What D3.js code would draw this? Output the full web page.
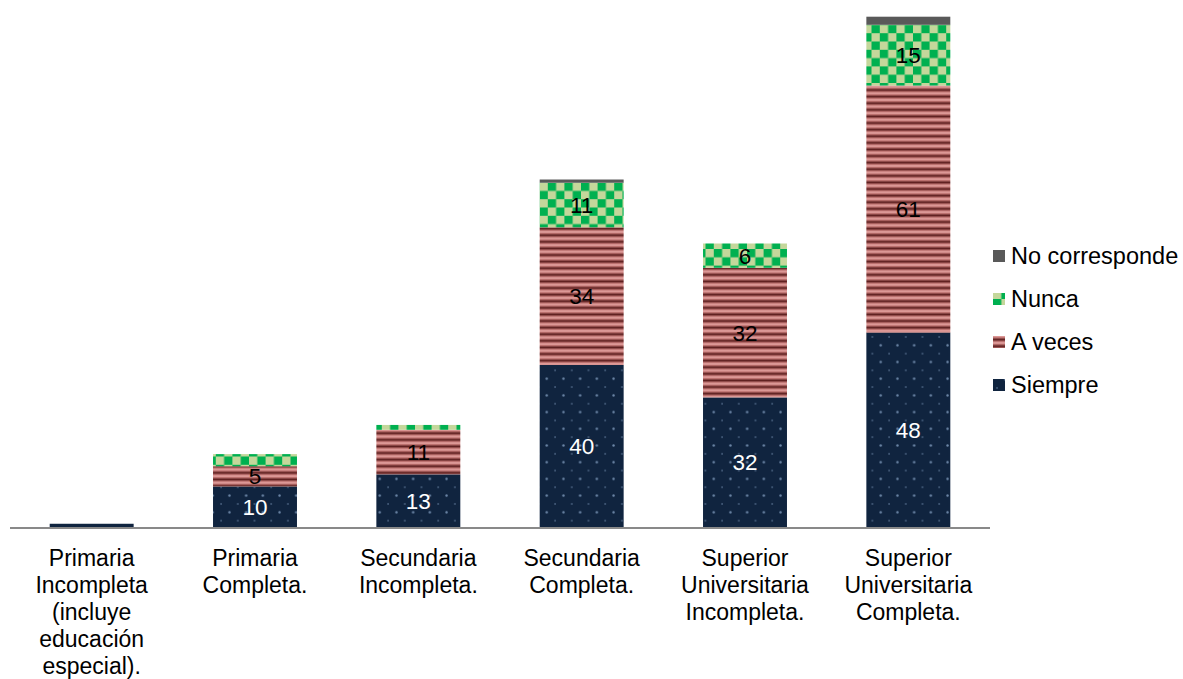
<!DOCTYPE html>
<html>
<head>
<meta charset="utf-8">
<script src="https://cdn.jsdelivr.net/npm/d3@7"></script>
<style>
  body { margin: 0; background: #fff; }
  svg text { font-family: "Liberation Sans", Arial, sans-serif; }
</style>
</head>
<body>
<div id="chart"></div>
<script>
// data
var categories = [
  ["Primaria", "Incompleta", "(incluye", "educación", "especial)."],
  ["Primaria", "Completa."],
  ["Secundaria", "Incompleta."],
  ["Secundaria", "Completa."],
  ["Superior", "Universitaria", "Incompleta."],
  ["Superior", "Universitaria", "Completa."]
];
var seriesNames = ["Siempre", "A veces", "Nunca", "No corresponde"];
var siempre = [0.8, 10, 13, 40, 32, 48];
var aVeces = [0, 5, 11, 34, 32, 61];
var nunca = [0, 3, 1.2, 11, 6, 15];
var noCorresponde = [0, 0, 0, 0.8, 0, 2];

var width = 1183, height = 679;
var baseY = 527;

var svg = d3.select("#chart").append("svg")
    .attr("width", width)
    .attr("height", height);

// fill patterns
var defs = svg.append("defs");

var pDots = defs.append("pattern")
    .attr("id", "pSiempre")
    .attr("patternUnits", "userSpaceOnUse")
    .attr("width", 16.7).attr("height", 16.7);
pDots.append("rect").attr("width", 16.7).attr("height", 16.7).attr("fill", "#10243f");
pDots.append("circle").attr("cx", 4).attr("cy", 3).attr("r", 0.8).attr("fill", "#6d87a8");
pDots.append("circle").attr("cx", 12.35).attr("cy", 11.35).attr("r", 1.2).attr("fill", "#6d87a8");

var pStripe = defs.append("pattern")
    .attr("id", "pAveces")
    .attr("patternUnits", "userSpaceOnUse")
    .attr("width", 10).attr("height", 6.6);
pStripe.append("rect").attr("width", 10).attr("height", 6.6).attr("fill", "#dc9896");
pStripe.append("rect").attr("y", 2.2).attr("width", 10).attr("height", 1).attr("fill", "#a85856");
pStripe.append("rect").attr("y", 3.2).attr("width", 10).attr("height", 2.2).attr("fill", "#5e1f1f");
pStripe.append("rect").attr("y", 5.4).attr("width", 10).attr("height", 0.8).attr("fill", "#a85856");

var pCheck = defs.append("pattern")
    .attr("id", "pNunca")
    .attr("patternUnits", "userSpaceOnUse")
    .attr("width", 16.6).attr("height", 16.6);
pCheck.append("rect").attr("width", 16.6).attr("height", 16.6).attr("fill", "#c4d79b");
pCheck.append("rect").attr("width", 8.3).attr("height", 8.3).attr("fill", "#00b050");
pCheck.append("rect").attr("x", 8.3).attr("y", 8.3).attr("width", 8.3).attr("height", 8.3).attr("fill", "#00b050");

var fills = ["url(#pSiempre)", "url(#pAveces)", "url(#pNunca)", "#595959"];
var labelColors = ["#fff", "#000", "#000", "#000"];

// rows for stacking
var rows = categories.map(function(c, i) {
  return {
    idx: i,
    "Siempre": siempre[i],
    "A veces": aVeces[i],
    "Nunca": nunca[i],
    "No corresponde": noCorresponde[i]
  };
});

var stack = d3.stack().keys(seriesNames);
var stacked = stack(rows);

var x = d3.scaleBand()
    .domain(d3.range(categories.length))
    .range([10, 990])
    .paddingInner(0.486)
    .paddingOuter(0.243);

var y = d3.scaleLinear()
    .domain([0, 130])
    .range([baseY, baseY - 130 * 4.05]);

var layers = svg.append("g").selectAll("g")
    .data(stacked)
    .enter().append("g")
    .attr("fill", function(d, i) { return fills[i]; });

layers.selectAll("rect")
    .data(function(d) { return d; })
    .enter().append("rect")
    .attr("x", function(d) { return x(d.data.idx); })
    .attr("y", function(d) { return y(d[1]); })
    .attr("width", x.bandwidth())
    .attr("height", function(d) { return y(d[0]) - y(d[1]); });

// value labels (small segments have none)
stacked.forEach(function(layer, li) {
  svg.append("g").selectAll("text")
    .data(layer.filter(function(d) { return d[1] - d[0] >= 5; }))
    .enter().append("text")
    .attr("x", function(d) { return x(d.data.idx) + x.bandwidth() / 2; })
    .attr("y", function(d) { return (y(d[0]) + y(d[1])) / 2; })
    .attr("dy", "0.36em")
    .attr("text-anchor", "middle")
    .attr("font-size", 22.5)
    .attr("fill", labelColors[li])
    .text(function(d) { return Math.round(d[1] - d[0]); });
});

// base line
svg.append("line")
    .attr("x1", 10).attr("x2", 990)
    .attr("y1", baseY + 1).attr("y2", baseY + 1)
    .attr("stroke", "#898989")
    .attr("stroke-width", 2);

// category labels
var catLabels = svg.append("g").selectAll("text")
    .data(categories)
    .enter().append("text")
    .attr("text-anchor", "middle")
    .attr("font-size", 23)
    .attr("fill", "#000")
    .attr("x", function(d, i) { return x(i) + x.bandwidth() / 2; })
    .attr("y", 566);

catLabels.selectAll("tspan")
    .data(function(d) { return d; })
    .enter().append("tspan")
    .attr("x", function() { return d3.select(this.parentNode).attr("x"); })
    .attr("dy", function(d, i) { return i === 0 ? 0 : 27; })
    .text(function(d) { return d; });

// legend
var legendOrder = [3, 2, 1, 0];
var legend = svg.append("g").selectAll("g")
    .data(legendOrder)
    .enter().append("g")
    .attr("transform", function(d, i) { return "translate(993," + (256 + i * 43) + ")"; });

legend.append("rect")
    .attr("x", 0).attr("y", -6)
    .attr("width", 12).attr("height", 12)
    .attr("fill", function(d) { return fills[d]; });

legend.append("text")
    .attr("x", 18)
    .attr("y", 8)
    .attr("font-size", 23.5)
    .attr("fill", "#000")
    .text(function(d) { return seriesNames[d]; });
</script>
</body>
</html>
